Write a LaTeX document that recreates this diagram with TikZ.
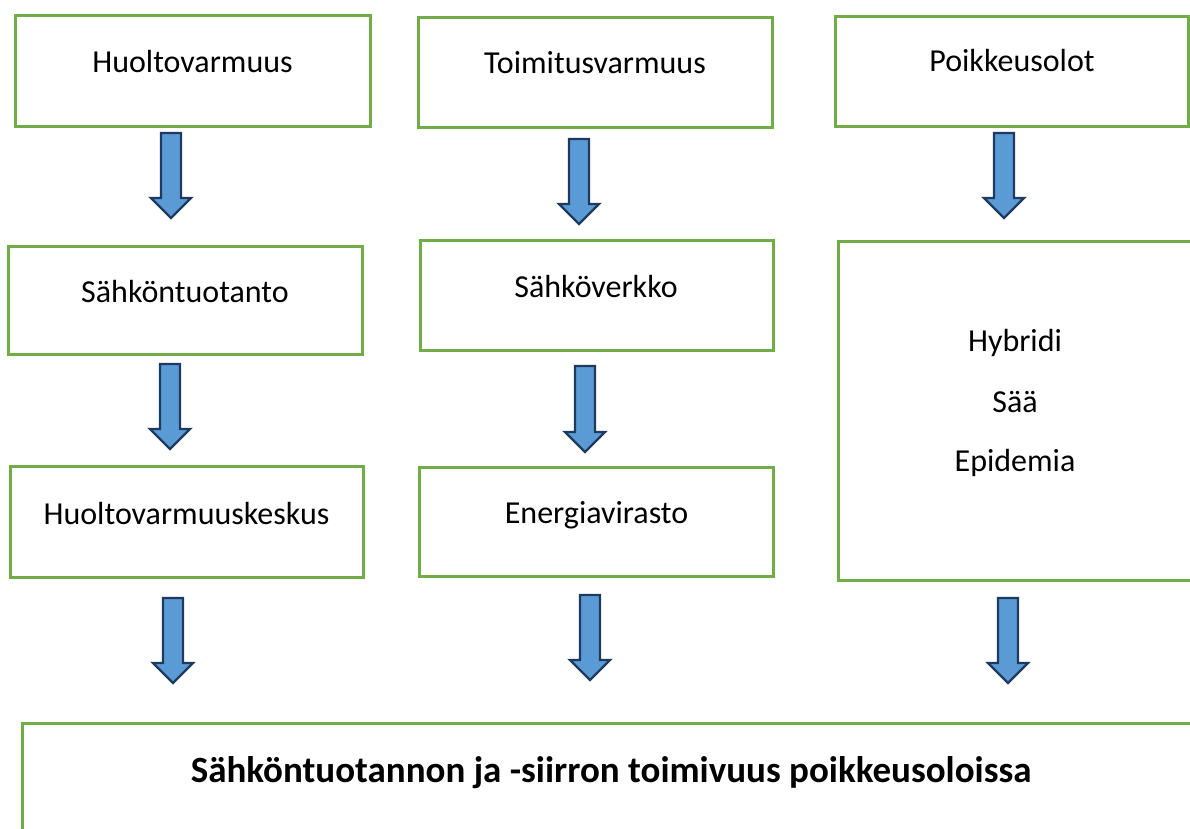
\documentclass[tikz,border=0pt]{standalone}
\usepackage{fontspec}
\setmainfont{Carlito}
\definecolor{boxgreen}{HTML}{70AD47}
\definecolor{arrowfill}{HTML}{5B9BD5}
\definecolor{arrowline}{HTML}{1F3A5F}
\tikzset{
  box/.style={draw=boxgreen, line width=3pt, fill=white},
  lbl/.style={anchor=base, inner sep=0pt, font=\fontsize{32}{38}\selectfont},
  title/.style={anchor=base, inner sep=0pt, font=\bfseries\fontsize{37}{44}\selectfont},
  blockarrow/.style={fill=arrowfill, draw=arrowline, line width=2.4pt, line join=miter},
}
\newcommand\downblock[3]{% cx, top, tip
  \draw[blockarrow] (#1-10,#2) -- (#1+10,#2) -- (#1+10,#3-20) -- (#1+20,#3-20) -- (#1,#3) -- (#1-20,#3-20) -- (#1-10,#3-20) -- cycle;}
\begin{document}
\begin{tikzpicture}[x=1pt,y=-1pt]
\useasboundingbox (0,0) rectangle (1190,828);
\clip (0,0) rectangle (1190,828);
% boxes
\draw[box] (15,15) rectangle (370,126);
\draw[box] (418,17) rectangle (772,127);
\draw[box] (835,16) rectangle (1188,126);
\draw[box] (8,246) rectangle (362,354);
\draw[box] (420,240) rectangle (773,350);
\draw[box] (838,241) rectangle (1205,580);
\draw[box] (10,466) rectangle (363,577);
\draw[box] (419,467) rectangle (773,576);
\draw[box] (22,723) rectangle (1205,845);
% texts
\node[lbl] (t1) at (192.5,72) {Huoltovarmuus};
\node[lbl] (t2) at (595,73) {Toimitusvarmuus};
\node[lbl] (t3) at (1012,71) {Poikkeusolot};
\node[lbl] (t4) at (185,302) {Sähköntuotanto};
\node[lbl] (t5) at (596,297) {Sähköverkko};
\node[lbl] (t6) at (1015,351) {Hybridi};
\node[lbl] (t7) at (1015,412) {Sää};
\node[lbl] (t8) at (1015,471) {Epidemia};
\node[lbl] (t9) at (186.5,524) {Huoltovarmuuskeskus};
\node[lbl] (t10) at (596.5,523) {Energiavirasto};
\node[title] (t11) at (611,782) {Sähköntuotannon ja -siirron toimivuus poikkeusoloissa};
% arrows
\downblock{171}{133}{218}
\downblock{579}{139}{224}
\downblock{1004}{133}{218}
\downblock{170}{364}{449}
\downblock{585}{366}{452}
\downblock{173}{598}{683}
\downblock{590}{595}{680}
\downblock{1008}{598}{683}
\end{tikzpicture}
\end{document}
